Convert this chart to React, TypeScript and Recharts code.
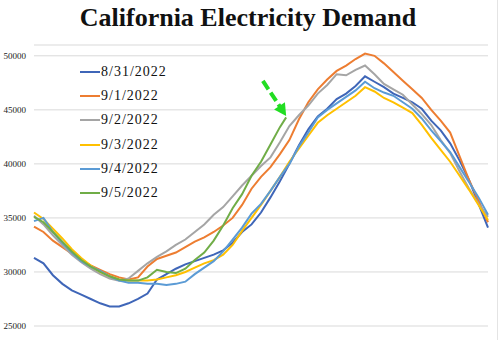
import React from "react";
import { LineChart, Line, XAxis, YAxis, CartesianGrid, ReferenceDot } from "recharts";

// Hours of the day (half-hour steps)
const hours = [
  0, 0.5, 1, 1.5, 2, 2.5, 3, 3.5, 4, 4.5, 5, 5.5, 6, 6.5, 7, 7.5, 8, 8.5, 9, 9.5,
  10, 10.5, 11, 11.5, 12, 12.5, 13, 13.5, 14, 14.5, 15, 15.5, 16, 16.5, 17, 17.5,
  18, 18.5, 19, 19.5, 20, 20.5, 21, 21.5, 22, 22.5, 23, 23.5, 24,
];
// 9/5 data stops at about 1:20 PM
const hours0905 = [
  0, 0.5, 1, 1.5, 2, 2.5, 3, 3.5, 4, 4.5, 5, 5.5, 6, 6.5, 7, 7.5, 8, 8.5, 9, 9.5,
  10, 10.5, 11, 11.5, 12, 12.5, 13, 13.33,
];

const seriesNames = ["8/31/2022", "9/1/2022", "9/2/2022", "9/3/2022", "9/4/2022", "9/5/2022"];

const d0831 = [
  31300, 30800, 29700, 28900, 28300, 27900, 27500, 27100, 26800, 26800, 27100, 27500, 28000,
  29300, 29800, 30300, 30700, 31000, 31300, 31600, 32000, 32700, 33700, 34400, 35500, 36900,
  38400, 40000, 41700, 43200, 44400, 45100, 46000, 46500, 47200, 48100, 47600, 47100, 46500,
  46100, 45700, 45100, 44000, 43100, 41900, 40300, 38500, 36300, 34100,
];
const d0901 = [
  34200, 33700, 32900, 32300, 31700, 31100, 30600, 30200, 29800, 29500, 29300, 29500, 30500,
  31200, 31500, 31800, 32300, 32800, 33200, 33700, 34300, 35000, 36200, 37700, 38800, 39700,
  40900, 42200, 44100, 45700, 46900, 47800, 48600, 49100, 49700, 50200, 50000, 49300, 48500,
  47700, 46900, 46100, 45000, 44000, 42900, 40700, 38500, 36600, 34600,
];
const d0902 = [
  35200, 34400, 33400, 32500, 31600, 30900, 30300, 29800, 29400, 29200, 29400, 30100, 30800,
  31400, 31900, 32500, 33000, 33700, 34400, 35300, 36000, 37000, 38000, 38900, 39800, 40600,
  42000, 43500, 44500, 45400, 46500, 47300, 48300, 48200, 48700, 49100, 48300, 47400, 46900,
  46400, 45500, 44600, 43600, 42200, 41000, 39300, 37700, 36300, 35100,
];
const d0903 = [
  35500, 34900, 34000, 33100, 32100, 31300, 30600, 30000, 29600, 29300, 29200, 29200, 29200,
  29300, 29500, 29700, 30000, 30400, 30800, 31100, 31600, 32500, 33800, 35000, 36200, 37500,
  38800, 40200, 41400, 42600, 43800, 44500, 45100, 45700, 46300, 47100, 46700, 46100, 45700,
  45200, 44700, 43600, 42400, 41300, 40200, 38900, 37600, 36200, 34800,
];
const d0904 = [
  34700, 35000, 33700, 32700, 31800, 31000, 30500, 30100, 29600, 29200, 29000, 29000, 28900,
  28900, 28800, 28900, 29100, 29800, 30400, 31000, 31900, 33000, 34100, 35400, 36300, 37500,
  38800, 40000, 41600, 42900, 44300, 45000, 45600, 46200, 46800, 47600, 47000, 46600, 46300,
  45700, 45100, 44200, 43100, 42100, 41100, 39700, 38300, 36900, 35300,
];
const d0905 = [
  35100, 34600, 33700, 32800, 31900, 31100, 30500, 30000, 29600, 29300, 29200, 29200, 29500,
  30200, 30000, 29900, 30300, 31100, 31800, 32900, 34300, 35900, 37200, 38900, 40200, 41800,
  43400, 44300,
];

const yTicks = [25000, 30000, 35000, 40000, 45000, 50000];

const colors = ["#3f66b8", "#ed7d31", "#a5a5a5", "#ffc000", "#5b9bd5", "#70ad47"];

const serifFont = "'Liberation Serif', 'Times New Roman', 'DejaVu Serif', serif";

const seriesValues = [d0831, d0901, d0902, d0903, d0904, d0905];
const seriesHours = [hours, hours, hours, hours, hours, hours0905];

const seriesData = seriesValues.map((vals, s) =>
  vals.map((v, i) => ({ hour: seriesHours[s][i], value: v }))
);

const lastGreenHour = hours0905[hours0905.length - 1];
const lastGreenValue = d0905[d0905.length - 1];

const ArrowShape = (props: any) => {
  const { cx, cy } = props;
  if (cx == null || cy == null) return null;
  const tx = cx;
  const ty = cy - 1.5;
  const ux = 0.554;
  const uy = 0.832;
  const headLen = 12;
  const headHalf = 6.5;
  const bx = tx - ux * headLen;
  const by = ty - uy * headLen;
  const px = -uy;
  const py = ux;
  const sx = tx - ux * 42;
  const sy = ty - uy * 42;
  return (
    <g>
      <line
        x1={sx}
        y1={sy}
        x2={bx + ux * 1}
        y2={by + uy * 1}
        stroke="#22dd22"
        strokeWidth={4}
        strokeDasharray="10 4"
      />
      <polygon
        points={`${tx},${ty} ${bx + px * headHalf},${by + py * headHalf} ${bx - px * headHalf},${by - py * headHalf}`}
        fill="#22dd22"
      />
    </g>
  );
};

export default function App() {
  return (
    <div
      style={{
        position: "absolute",
        left: 0,
        top: 0,
        width: 500,
        height: 340,
        background: "#fff",
        overflow: "hidden",
      }}
    >
      <div
        style={{
          position: "absolute",
          left: 0,
          top: 5,
          width: 496,
          textAlign: "center",
          fontFamily: serifFont,
          fontWeight: "bold",
          fontSize: 26,
          lineHeight: "26px",
          color: "#111",
        }}
      >
        California Electricity Demand
      </div>
      <div style={{ position: "absolute", left: 497, top: 0, width: 1, height: 340, background: "#e4e4e4" }} />
      <div style={{ position: "absolute", left: 0, top: 0 }}>
        <LineChart width={500} height={340} margin={{ top: 45, right: 12, bottom: 14, left: 0 }}>
          <CartesianGrid horizontal={true} vertical={false} stroke="#d9d9d9" />
          <XAxis type="number" dataKey="hour" domain={[0, 24]} hide allowDuplicatedCategory={false} />
          <YAxis
            type="number"
            width={34}
            domain={[25000, 51000]}
            ticks={yTicks}
            axisLine={false}
            tickLine={false}
            interval={0}
            tick={{ fontSize: 9, fontFamily: serifFont, fill: "#222" }}
          />
          {seriesData.map((data, s) => (
            <Line
              key={seriesNames[s]}
              data={data}
              dataKey="value"
              name={seriesNames[s]}
              type="linear"
              stroke={colors[s]}
              strokeWidth={2}
              dot={false}
              activeDot={false}
              isAnimationActive={false}
            />
          ))}
          <ReferenceDot x={lastGreenHour} y={lastGreenValue} r={4} shape={ArrowShape} />
        </LineChart>
      </div>
      {seriesNames.map((name, i) => (
        <div
          key={name}
          style={{
            position: "absolute",
            left: 80,
            top: 60 + i * 24.2,
            height: 24,
            display: "flex",
            alignItems: "center",
            fontFamily: serifFont,
            fontSize: 14,
            letterSpacing: 1,
            color: "#111",
            whiteSpace: "nowrap",
          }}
        >
          <div style={{ width: 20, height: 2, background: colors[i], marginRight: 1 }} />
          <span>{name}</span>
        </div>
      ))}
    </div>
  );
}
